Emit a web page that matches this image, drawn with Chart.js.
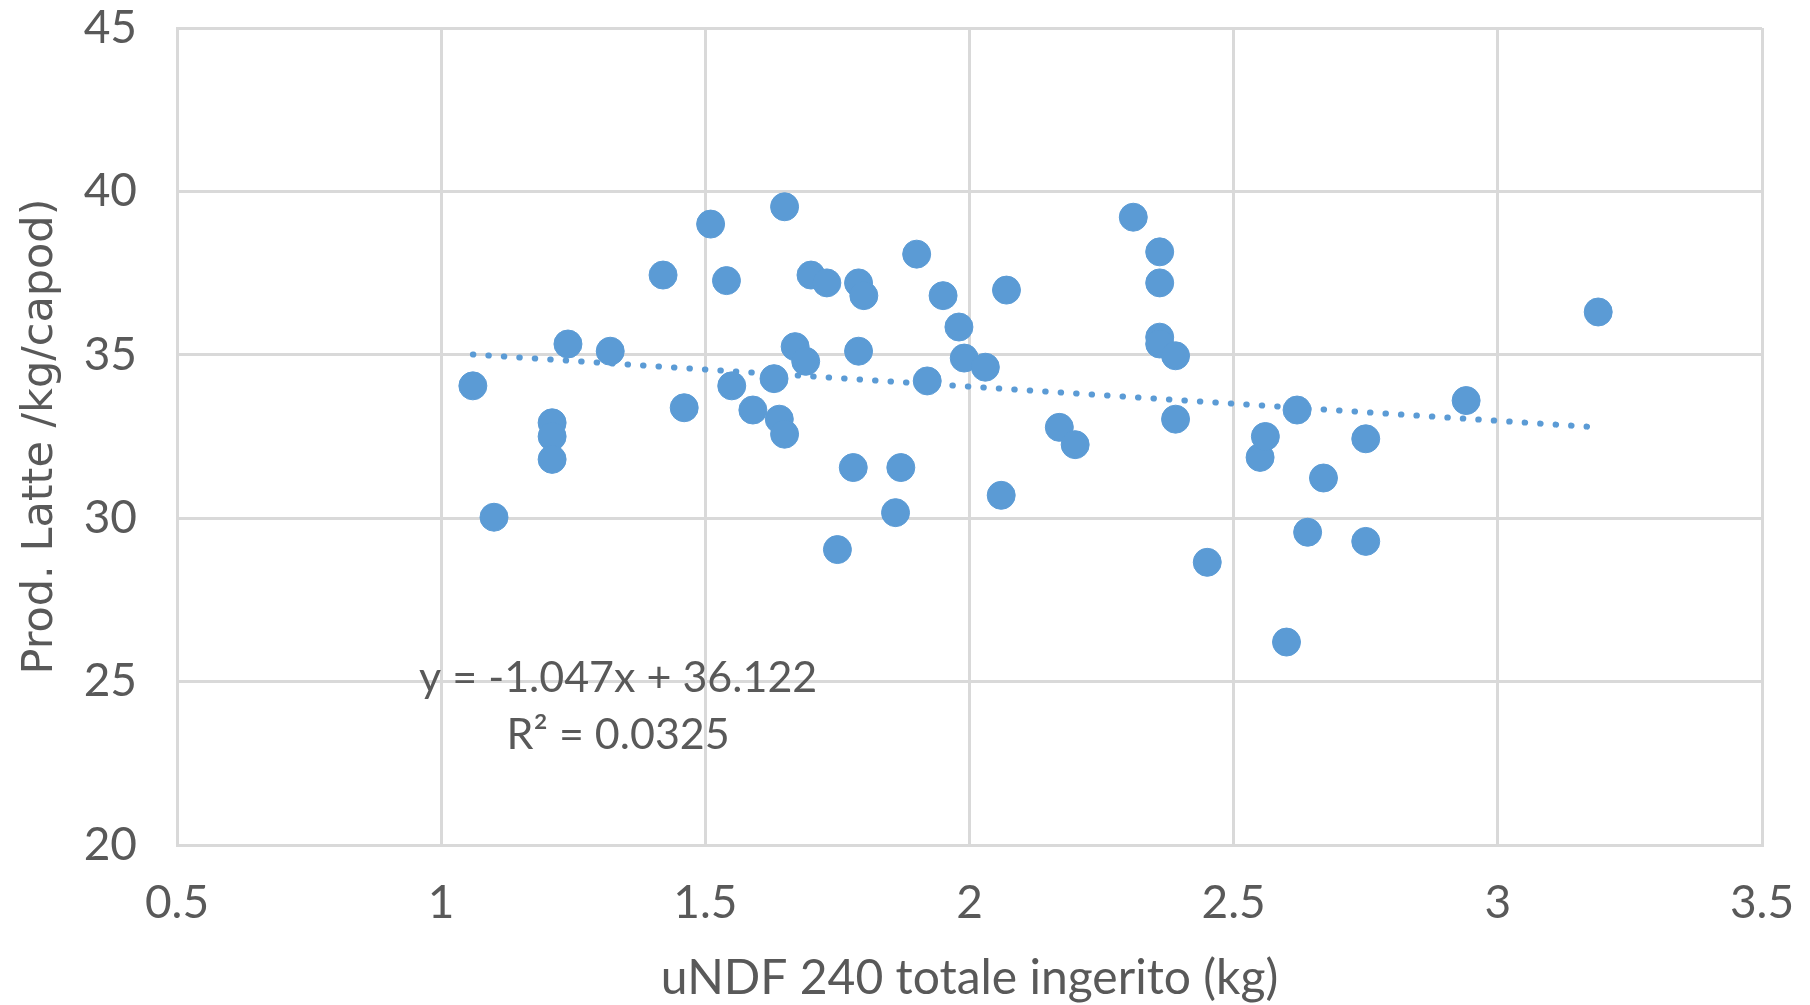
<!DOCTYPE html>
<html>
<head>
<meta charset="utf-8">
<script src="https://cdn.jsdelivr.net/npm/chart.js@4.4.1/dist/chart.umd.min.js"></script>
<style>
    html, body { margin: 0; padding: 0; background: #ffffff; overflow: hidden; }
    #wrap { width: 1810px; height: 1005px; }
    canvas { display: block; }
</style>
</head>
<body>
<div id="wrap"><canvas id="myChart"></canvas></div>
<script>
var undfValues = [
    1.06, 1.10, 1.21, 1.21, 1.21, 1.24, 1.32, 1.42, 1.46, 1.51,
    1.54, 1.55, 1.59, 1.63, 1.64, 1.65, 1.65, 1.67, 1.69, 1.70,
    1.73, 1.79, 1.80, 1.79, 1.78, 1.75, 1.87, 1.86, 1.90, 1.92,
    1.95, 1.98, 1.99, 2.03, 2.07, 2.06, 2.17, 2.20, 2.31, 2.36,
    2.36, 2.36, 2.36, 2.39, 2.39, 2.45, 2.55, 2.56, 2.62, 2.60,
    2.64, 2.67, 2.75, 2.75, 2.94, 3.19
];

var milkValues = [
    34.05, 30.03, 32.92, 32.50, 31.80, 35.33, 35.11, 37.44, 33.38, 39.00,
    37.27, 34.05, 33.31, 34.27, 33.03, 32.57, 39.53, 35.25, 34.80, 37.44,
    37.20, 37.20, 36.81, 35.11, 31.55, 29.04, 31.55, 30.17, 38.08, 34.20,
    36.81, 35.85, 34.90, 34.62, 36.98, 30.70, 32.78, 32.25, 39.21, 38.15,
    37.20, 35.54, 35.33, 34.97, 33.03, 28.65, 31.86, 32.50, 33.31, 26.21,
    29.57, 31.23, 32.43, 29.29, 33.60, 36.31
];

// trendline ends
var trendX = [1.06, 3.19];
var trendY = [35.01, 32.78];

var xTicks = [0.5, 1, 1.5, 2, 2.5, 3, 3.5];
var yTicks = [20, 25, 30, 35, 40, 45];

var equationLines = ["y = -1.047x + 36.122", "R\u00b2 = 0.0325"];

var blue = "#5b9bd5";
var gridGray = "#d9d9d9";
var textGray = "#595959";
var tickFont = "Lato, 'Open Sans', sans-serif";

var points = undfValues.map(function(x, i) {
    return { x: x, y: milkValues[i] };
});

var trendPoints = trendX.map(function(x, i) {
    return { x: x, y: trendY[i] };
});

// writes the trendline equation at a spot given in axis units
var equationPlugin = {
    id: "equation",
    afterDatasetsDraw: function(chart) {
        var ctx = chart.ctx;
        var xs = chart.scales.x;
        var ys = chart.scales.y;
        ctx.save();
        ctx.fillStyle = textGray;
        ctx.font = "43px " + tickFont;
        ctx.textAlign = "center";
        ctx.textBaseline = "middle";
        ctx.fillText(equationLines[0], xs.getPixelForValue(1.335), ys.getPixelForValue(25.1));
        ctx.fillText(equationLines[1], xs.getPixelForValue(1.335), ys.getPixelForValue(23.35));
        ctx.restore();
    }
};

var config = {
    type: "scatter",
    data: {
        datasets: [{
            label: "Trend",
            type: "line",
            data: trendPoints,
            borderColor: blue,
            borderWidth: 6,
            borderDash: [0.5, 15],
            borderCapStyle: "round",
            pointRadius: 0,
            fill: false,
            order: 2
        }, {
            label: "Prod. Latte",
            data: points,
            backgroundColor: blue,
            borderColor: blue,
            borderWidth: 1,
            pointRadius: 14,
            pointHoverRadius: 14,
            order: 1
        }]
    },
    options: {
        responsive: true,
        maintainAspectRatio: false,
        animation: false,
        events: [],
        layout: {
            padding: { top: 28, right: 48, left: 0, bottom: 0 }
        },
        plugins: {
            legend: { display: false },
            tooltip: { enabled: false }
        },
        scales: {
            x: {
                type: "linear",
                min: 0.5,
                max: 3.5,
                afterBuildTicks: function(scale) {
                    scale.ticks = xTicks.map(function(v) { return { value: v }; });
                },
                // fixed box, no extra room asked for the end labels
                afterFit: function(scale) {
                    scale.height = 160;
                    scale.paddingLeft = 0;
                    scale.paddingRight = 0;
                },
                grid: { color: gridGray, lineWidth: 3, drawTicks: false },
                border: { color: gridGray, width: 3 },
                ticks: {
                    color: textGray,
                    padding: 31,
                    maxRotation: 0,
                    font: { family: tickFont, size: 46 },
                    callback: function(value) { return String(value); }
                },
                title: {
                    display: true,
                    text: "uNDF 240 totale ingerito (kg)",
                    color: textGray,
                    padding: { top: 0, bottom: 0 },
                    font: { family: tickFont, size: 48, lineHeight: 1.1 }
                }
            },
            y: {
                type: "linear",
                min: 20,
                max: 45,
                afterBuildTicks: function(scale) {
                    scale.ticks = yTicks.map(function(v) { return { value: v }; });
                },
                afterFit: function(scale) {
                    scale.width = 177;
                    scale.paddingTop = 0;
                    scale.paddingBottom = 0;
                },
                grid: { color: gridGray, lineWidth: 3, drawTicks: false },
                border: { color: gridGray, width: 3 },
                ticks: {
                    color: textGray,
                    padding: 40,
                    font: { family: tickFont, size: 46 }
                },
                title: {
                    display: true,
                    text: "Prod. Latte /kg/capod)",
                    color: textGray,
                    padding: { top: 15, bottom: 0 },
                    font: { family: "'DejaVu Sans', sans-serif", size: 43 }
                }
            }
        }
    },
    plugins: [equationPlugin]
};

if (document.getElementById("myChart")) {
    var myChart = new Chart(document.getElementById("myChart").getContext("2d"), config);
}
</script>
</body>
</html>
